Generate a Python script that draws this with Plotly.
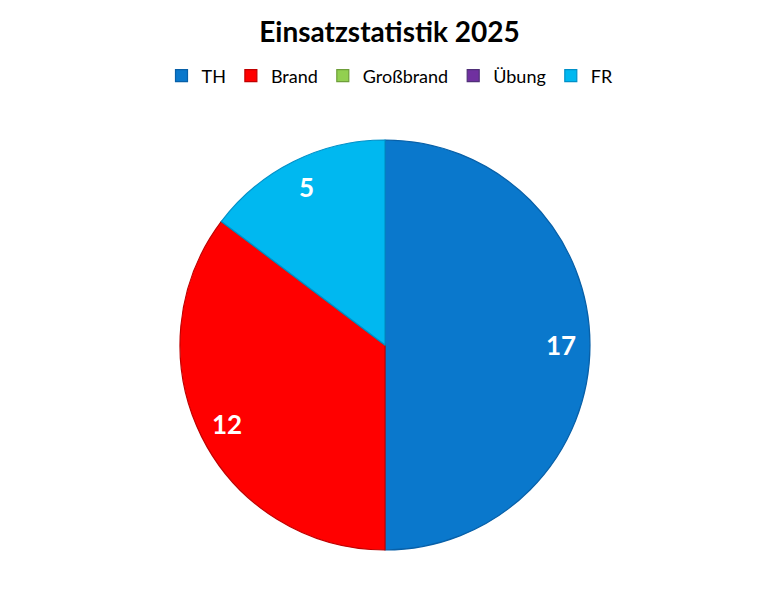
import math
import plotly.graph_objects as go

categories = ["TH", "Brand", "Großbrand", "Übung", "FR"]
values = [17, 12, 0, 0, 5]
colors = ["#0A78CC", "#FF0000", "#92D050", "#7030A0", "#00B8F0"]
edge_colors = ["#0860A8", "#C00000", "#6E9E3A", "#503078", "#0090C8"]

# page body has an 8px margin; figure is sized so it fits the 771x598 window
OFF = 8
W, H = 771 - OFF, 598 - OFF
ml, mr, mt, mb = 0, 9, 140 - OFF, 48
PW, PH = W - ml - mr, H - mt - mb


def py2paper(py):
    return (H - mb - py) / PH


def px2paper(px):
    return (px - ml) / PW


fig = go.Figure()
fig.add_trace(go.Pie(
    labels=categories, values=values, sort=False, direction="clockwise",
    rotation=0, marker=dict(colors=colors, line=dict(color=edge_colors, width=1.2)),
    textinfo="none", hoverinfo="label+value", showlegend=True,
    domain=dict(x=[0, 1], y=[0, 1]),
))

total = sum(values)
cx = ml + PW / 2
cy = mt + PH / 2
r = min(PW, PH) / 2
cum = 0
for lab, v in zip(categories, values):
    if v > 0:
        mid = (cum + v / 2) / total * 2 * math.pi
        px = cx + 0.86 * r * math.sin(mid)
        py = cy - 0.86 * r * math.cos(mid)
        fig.add_annotation(x=px2paper(px), y=py2paper(py), xref="paper", yref="paper",
                           xanchor="center", yanchor="middle",
                           text=f"<b>{v}</b>", showarrow=False,
                           font=dict(color="white", size=26, family="Lato, Liberation Sans"))
    cum += v

fig.update_layout(
    width=W, height=H,
    margin=dict(l=ml, r=mr, t=mt, b=mb, autoexpand=False),
    paper_bgcolor="white",
    title=dict(text="<b>Einsatzstatistik 2025</b>", x=px2paper(385 - OFF), xanchor="center",
               y=1 - (32 - OFF) / H, yanchor="middle",
               font=dict(size=28, color="black", family="Lato, Liberation Sans")),
    legend=dict(orientation="h", x=px2paper(390 - OFF), xanchor="center",
                y=py2paper(76 - OFF), yanchor="middle",
                font=dict(size=18, color="black", family="Lato, Liberation Sans"),
                itemclick=False, traceorder="normal"),
    font=dict(family="Lato, Liberation Sans"),
)
fig.write_html("out.html")
